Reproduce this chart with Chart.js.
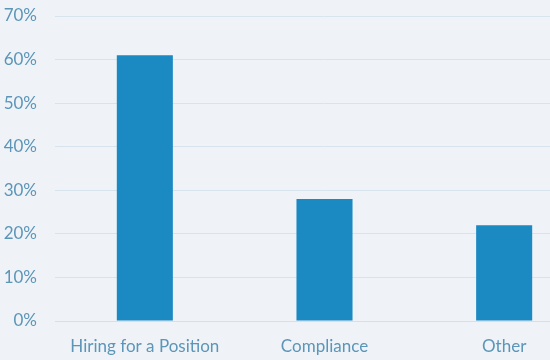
<!DOCTYPE html>
<html>
<head>
<meta charset="utf-8">
<script src="https://cdn.jsdelivr.net/npm/chart.js@4/dist/chart.umd.min.js"></script>
<style>
html,body{margin:0;padding:0;background:#eff3f7;overflow:hidden;}
#wrap{width:594px;height:360px;position:relative;}
</style>
</head>
<body>
<div id="wrap"><canvas id="c" width="594" height="360"></canvas></div>
<script>
const categories = ["Hiring for a Position", "Compliance", "Other"];
const values = [61, 28, 22];
const yTicks = [0, 10, 20, 30, 40, 50, 60, 70];

const labelColor = "#5b95b8";
new Chart(document.getElementById("c"), {
  type: "bar",
  data: {
    labels: categories,
    datasets: [{
      data: values,
      backgroundColor: "#1b89c2",
      barPercentage: 0.312,
      categoryPercentage: 1.0
    }]
  },
  options: {
    responsive: false,
    animation: false,
    layout: { padding: { top: 16, right: 0, left: 0, bottom: 0 } },
    plugins: { legend: { display: false }, tooltip: { enabled: false } },
    scales: {
      x: {
        afterFit: (ax) => { ax.height = 39; ax.paddingLeft = 0; ax.paddingRight = 0; },
        grid: { display: false },
        border: { display: true, color: "#d3e1ec", width: 1 },
        ticks: { color: labelColor, font: { family: "Lato", size: 17 }, padding: 7, maxRotation: 0 }
      },
      y: {
        min: 0, max: 70,
        afterBuildTicks: (ax) => { ax.ticks = yTicks.map(v => ({ value: v })); },
        afterFit: (ax) => { ax.width = 55; ax.paddingTop = 0; ax.paddingBottom = 0; },
        grid: { color: "#d7e4ee", drawTicks: false, lineWidth: 1 },
        border: { display: false },
        ticks: { color: labelColor, font: { family: "Lato", size: 17 }, padding: 18, callback: v => v + "%" }
      }
    }
  }
});
</script>
</body>
</html>
